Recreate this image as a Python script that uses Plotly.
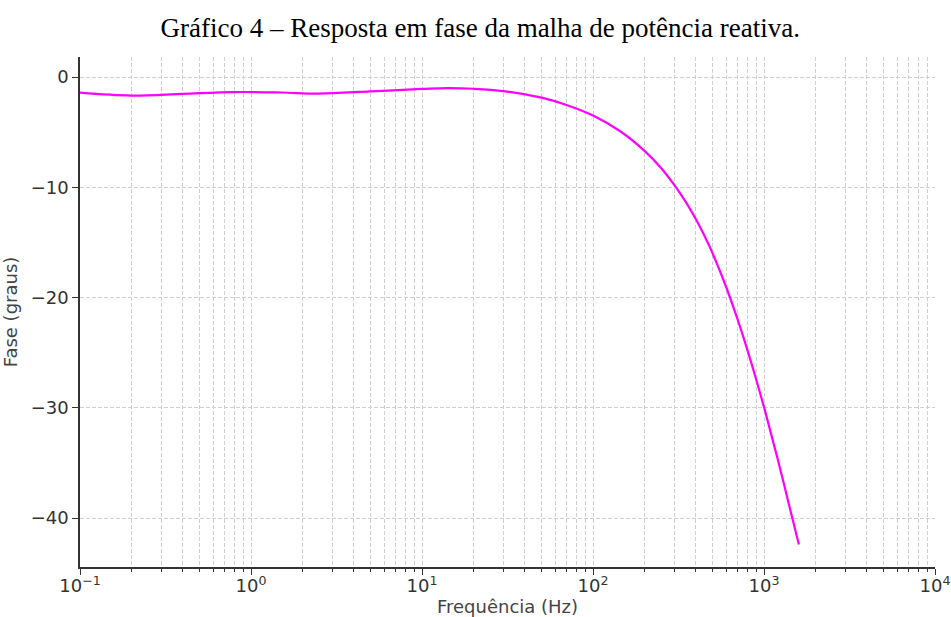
import plotly.graph_objects as go

# Data
freq_hz = [0.1, 0.2, 0.4, 0.8, 1.5, 2.5, 5, 10, 14, 20, 30, 50, 70, 100, 145, 200,
           250, 300, 350, 400, 450, 500, 600, 700, 800, 900, 1014, 1200, 1452, 1600]
phase_deg = [-1.42, -1.68, -1.52, -1.36, -1.4, -1.5, -1.3, -1.08, -1.0, -1.06, -1.27,
             -1.87, -2.53, -3.49, -4.94, -6.69, -8.24, -9.82, -11.36, -12.9, -14.44,
             -15.97, -19.02, -21.96, -24.77, -27.43, -30.28, -34.6, -39.78, -42.4]

x_major = [0.1, 1, 10, 100, 1000, 10000]
x_major_text = ["10<sup>−1</sup>", "10<sup>0</sup>", "10<sup>1</sup>",
                "10<sup>2</sup>", "10<sup>3</sup>", "10<sup>4</sup>"]
y_major = [0, -10, -20, -30, -40]
y_major_text = ["0", "−10", "−20", "−30", "−40"]

title_text = "Gráfico 4 – Resposta em fase da malha de potência reativa."
x_title = "Frequência (Hz)"
y_title = "Fase (graus)"

x_minor = [m * 10 ** e for e in range(-1, 4) for m in range(2, 10)]

fig = go.Figure()
fig.add_trace(go.Scatter(
    x=freq_hz, y=phase_deg, mode="lines",
    line=dict(color="#ff00ff", width=2.2, shape="spline", smoothing=1.0),
    showlegend=False,
))

grid_col = "#cfcfcf"
grid_dash = "4px,2px"
fig.update_layout(
    width=951, height=617,
    margin=dict(l=80, r=16, t=57, b=50),
    paper_bgcolor="white", plot_bgcolor="white",
    title=dict(text=title_text, x=0.505, xanchor="center", y=0.955, yanchor="middle",
               font=dict(family="Liberation Serif", size=27, color="#000")),
    font=dict(family="DejaVu Sans", size=18, color="#333"),
)
fig.update_xaxes(
    type="log", range=[-1, 4], automargin=False,
    tickmode="array", tickvals=x_major, ticktext=x_major_text,
    tickfont=dict(size=18, color="#333"), ticklabelstandoff=-4,
    ticks="outside", ticklen=6, tickwidth=1.2, tickcolor="#333",
    showline=True, linecolor="#333", linewidth=1.5, mirror=False,
    showgrid=True, gridcolor=grid_col, griddash=grid_dash, gridwidth=1,
    zeroline=False,
    minor=dict(tickmode="array", tickvals=x_minor, ticks="outside", ticklen=3.5,
               tickwidth=1, tickcolor="#333", showgrid=True, gridcolor=grid_col,
               griddash=grid_dash, gridwidth=1),
    title=dict(text=x_title, font=dict(size=18, color="#444"), standoff=6),
)
fig.update_yaxes(
    range=[-44.44, 1.82], automargin=False,
    tickmode="array", tickvals=y_major, ticktext=y_major_text,
    tickfont=dict(size=18, color="#333"),
    ticks="outside", ticklen=6, tickwidth=1.2, tickcolor="#333",
    showline=True, linecolor="#333", linewidth=1.5, mirror=False,
    showgrid=True, gridcolor=grid_col, griddash=grid_dash, gridwidth=1,
    zeroline=False,
    title=dict(text=y_title, font=dict(size=18, color="#444"), standoff=8),
)

fig.write_html("out.html")
